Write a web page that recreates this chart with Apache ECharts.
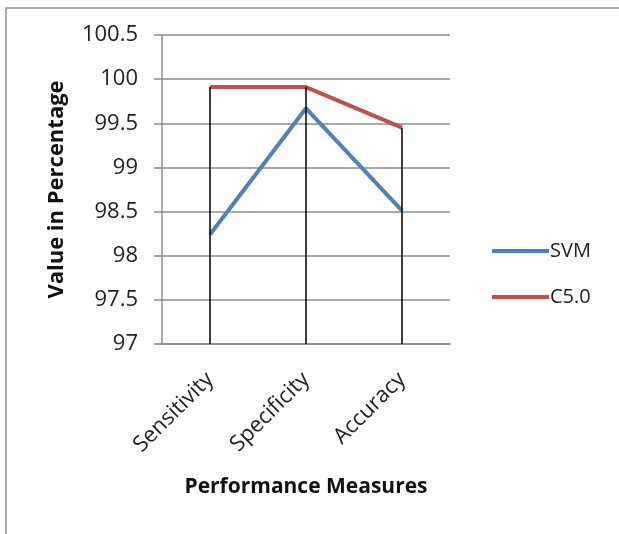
<!DOCTYPE html>
<html>
<head>
<meta charset="utf-8">
<script src="https://cdn.jsdelivr.net/npm/echarts@6/dist/echarts.min.js"></script>
<style>
  html, body { margin: 0; padding: 0; background: #fff; }
  #output { width: 619px; height: 534px; }
</style>
</head>
<body>
<div id="output"></div>
<script>
const chart = echarts.init(document.getElementById('output'));

const categories = ['Sensitivity', 'Specificity', 'Accuracy']
const svmValues = [98.24, 99.67, 98.51]
const c50Values = [99.91, 99.91, 99.45]
const yMin = 97
const yMax = 100.5
const yStep = 0.5

const font = 'Open Sans'

// drop lines from the highest point of each category down to the axis
const dropLines = categories.map((c, i) => [
  { coord: [c, Math.max(svmValues[i], c50Values[i])] },
  { coord: [c, yMin] }
])

chart.setOption({
  animation: false,
  textStyle: { fontFamily: font },
  graphic: [{
    type: 'rect',
    shape: { x: 6, y: 8, width: 700, height: 600 },
    style: { fill: 'none', stroke: '#8c8c8c', lineWidth: 1.5 },
    silent: true
  }],
  grid: { left: 162, right: 169, top: 35, bottom: 190 },
  legend: {
    orient: 'vertical',
    left: 487,
    top: 236,
    itemWidth: 57,
    itemHeight: 4,
    itemGap: 26,
    icon: 'rect',
    textStyle: { fontFamily: font, fontSize: 20, lineHeight: 20, color: '#222', padding: [0, 0, 0, -4] },
    data: ['SVM', 'C5.0']
  },
  xAxis: {
    type: 'category',
    data: categories,
    boundaryGap: true,
    name: 'Performance Measures',
    nameLocation: 'middle',
    nameGap: 133,
    nameTextStyle: { fontFamily: font, fontWeight: 'bold', fontSize: 21, color: '#111' },
    axisLine: { lineStyle: { color: '#8c8c8c', width: 1.5 } },
    axisTick: { show: false },
    axisLabel: { rotate: 45, fontSize: 22, color: '#222', margin: 32, fontFamily: font }
  },
  yAxis: {
    type: 'value',
    min: yMin,
    max: yMax,
    interval: yStep,
    name: 'Value in Percentage',
    nameLocation: 'middle',
    nameGap: 94,
    nameTextStyle: { fontFamily: font, fontWeight: 'bold', fontSize: 22, color: '#111' },
    axisLine: { show: true, lineStyle: { color: '#8c8c8c', width: 1.5 } },
    axisTick: { show: true, length: 8, lineStyle: { color: '#8c8c8c', width: 1.5 } },
    axisLabel: { fontSize: 22, color: '#222', margin: 24, fontFamily: font },
    splitLine: { lineStyle: { color: '#8c8c8c', width: 1.5 } }
  },
  series: [
    {
      name: 'SVM',
      type: 'line',
      data: svmValues,
      symbol: 'none',
      lineStyle: { color: '#4F81BD', width: 4 },
      itemStyle: { color: '#4F81BD' },
      z: 3
    },
    {
      name: 'C5.0',
      type: 'line',
      data: c50Values,
      symbol: 'none',
      lineStyle: { color: '#C0504D', width: 4 },
      itemStyle: { color: '#C0504D' },
      z: 3,
      markLine: {
        silent: true,
        symbol: 'none',
        label: { show: false },
        lineStyle: { color: '#000', width: 1.5, type: 'solid' },
        data: dropLines,
        z: 4
      }
    }
  ]
})
</script>
</body>
</html>
